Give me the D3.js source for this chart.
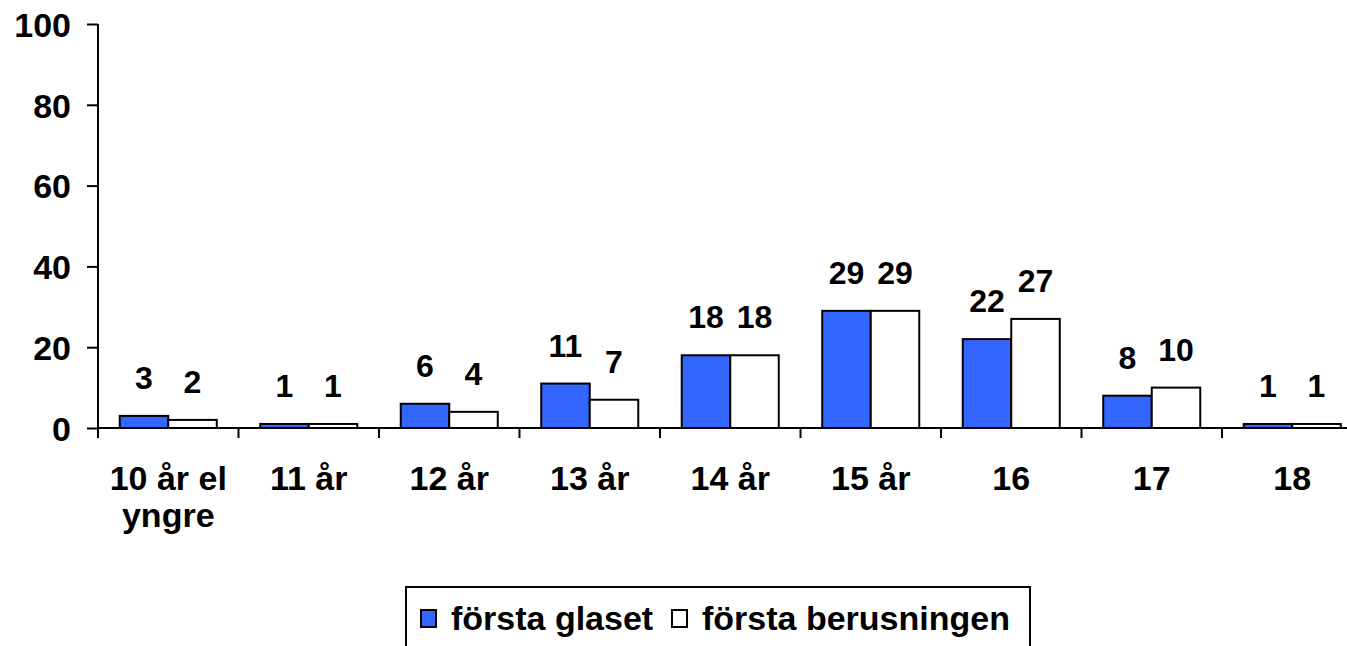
<!DOCTYPE html>
<html><head><meta charset="utf-8">
<script src="https://cdn.jsdelivr.net/npm/d3@7"></script>
<style>
html,body{margin:0;padding:0;background:#fff;}
svg{display:block;}
text{font-family:"Liberation Sans",Arial,Helvetica,sans-serif;font-weight:bold;fill:#000;}
</style></head>
<body>
<script>
const categories = ["10 år el yngre","11 år","12 år","13 år","14 år","15 år","16","17","18"];
const categoryLines = [["10 år el","yngre"],["11 år"],["12 år"],["13 år"],["14 år"],["15 år"],["16"],["17"],["18"]];
const seriesNames = ["första glaset","första berusningen"];
const forstaGlaset = [3,1,6,11,18,29,22,8,1];
const forstaBerusningen = [2,1,4,7,18,29,27,10,1];
const yTicks = [0,20,40,60,80,100];
const seriesColors = ["#3366FF","#FFFFFF"];

const W=1347,H=646;
const svg=d3.select("body").append("svg").attr("width",W).attr("height",H);

const x0=98, step=140.5;
const x=d3.scaleBand().domain(categories).range([x0,x0+step*categories.length]).paddingInner(0).paddingOuter(0);
const x1=d3.scaleBand().domain(seriesNames).range([0,x.bandwidth()]).paddingInner(0).paddingOuter(0.448);
const y=d3.scaleLinear().domain([0,100]).range([428,24]);

const data = categories.map((c,i)=>({cat:c,vals:[forstaGlaset[i],forstaBerusningen[i]]}));

// bars
const g=svg.append("g");
data.forEach(d=>{
  d.vals.forEach((v,j)=>{
    g.append("rect")
      .attr("x",x(d.cat)+x1(seriesNames[j]))
      .attr("y",y(v))
      .attr("width",x1.bandwidth())
      .attr("height",y(0)-y(v))
      .attr("fill",seriesColors[j])
      .attr("stroke","#000").attr("stroke-width",2);
    g.append("text")
      .attr("x",x(d.cat)+x1(seriesNames[j])+x1.bandwidth()/2)
      .attr("y",y(v)-27)
      .attr("text-anchor","middle")
      .style("font-size","32px")
      .text(v);
  });
});

// y axis
const yAxis=d3.axisLeft(y).tickValues(yTicks).tickSize(11).tickPadding(16).tickSizeOuter(0);
const ya=svg.append("g").attr("transform",`translate(${x0},0)`).call(yAxis);
ya.select(".domain").remove();
ya.selectAll("line").attr("stroke","#000").attr("stroke-width",2);
ya.selectAll("text").style("font-size","34px").attr("dy","0.36em").attr("font-family",null);
svg.append("line").attr("x1",x0).attr("x2",x0).attr("y1",y(100)).attr("y2",438).attr("stroke","#000").attr("stroke-width",2);

// x axis
svg.append("line").attr("x1",x0).attr("x2",W+20).attr("y1",y(0)).attr("y2",y(0)).attr("stroke","#000").attr("stroke-width",2);
categories.forEach((c,i)=>{
  const xb=x(c)+x.bandwidth();
  svg.append("line").attr("x1",xb).attr("x2",xb).attr("y1",y(0)).attr("y2",438).attr("stroke","#000").attr("stroke-width",2);
  const t=svg.append("text").attr("x",x(c)+x.bandwidth()/2).attr("y",490).attr("text-anchor","middle").style("font-size","34px");
  categoryLines[i].forEach((ln,k)=>{
    t.append("tspan").attr("x",x(c)+x.bandwidth()/2).attr("dy",k===0?0:37).text(ln);
  });
});

// legend
const lg=svg.append("g");
lg.append("rect").attr("x",406).attr("y",587).attr("width",624).attr("height",90).attr("fill","#fff").attr("stroke","#000").attr("stroke-width",2);
const legendX=[421,672];
const legendTextX=[451,702];
seriesNames.forEach((s,j)=>{
  lg.append("rect").attr("x",legendX[j]).attr("y",610).attr("width",15).attr("height",17).attr("fill",seriesColors[j]).attr("stroke","#000").attr("stroke-width",2);
  lg.append("text").attr("x",legendTextX[j]).attr("y",630).style("font-size","34px").text(s);
});
</script>
</body></html>
